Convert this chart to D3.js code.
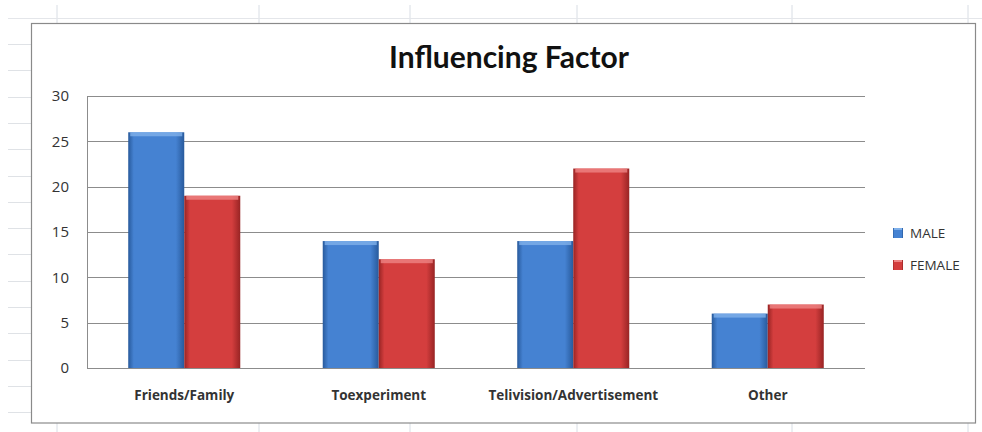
<!DOCTYPE html>
<html>
<head>
<meta charset="utf-8">
<script src="https://cdn.jsdelivr.net/npm/d3@7"></script>
<style>
  html, body { margin: 0; padding: 0; background: #fff; }
  svg { display: block; }
</style>
</head>
<body>
<svg id="chart" width="982" height="432"></svg>
<script>
const categories = ["Friends/Family", "Toexperiment", "Telivision/Advertisement", "Other"];
const seriesNames = ["MALE", "FEMALE"];
const maleValues = [26, 14, 14, 6];
const femaleValues = [19, 12, 22, 7];
const yTicks = [0, 5, 10, 15, 20, 25, 30];
const title = "Influencing Factor";

const seriesValues = [maleValues, femaleValues];
const colors = {
  MALE: { edge: "#285a9c", mid: "#4582d2", top: "#7fb0ea" },
  FEMALE: { edge: "#982424", mid: "#d43e3e", top: "#ee8585" }
};

const svg = d3.select("#chart");
const W = 982, H = 432;

// spreadsheet background
const bg = svg.append("g");
const sheetCols = [57, 259, 410, 577, 792, 968];
sheetCols.forEach(x => {
  bg.append("line").attr("x1", x).attr("x2", x).attr("y1", 5).attr("y2", 23).attr("stroke", "#d8dde4").attr("stroke-width", 1);
  bg.append("line").attr("x1", x).attr("x2", x).attr("y1", 423).attr("y2", 432).attr("stroke", "#d8dde4").attr("stroke-width", 1);
});
bg.append("line").attr("x1", 8).attr("x2", W).attr("y1", 18.5).attr("y2", 18.5).attr("stroke", "#e4e6ea");
for (let y = 44; y < 420; y += 26.3) {
  bg.append("line").attr("x1", 8).attr("x2", 31).attr("y1", Math.round(y) + 0.5).attr("y2", Math.round(y) + 0.5).attr("stroke", "#dfe2e6");
}

// chart frame
svg.append("rect").attr("x", 31.5).attr("y", 23.5).attr("width", 944).attr("height", 399.5)
  .attr("fill", "#fff").attr("stroke", "#8a8a8a").attr("stroke-width", 1.2);

// title
svg.append("text").attr("x", 509).attr("y", 68).attr("text-anchor", "middle")
  .attr("font-family", "Lato, 'Open Sans', sans-serif").attr("font-weight", "bold")
  .attr("font-size", 30).attr("fill", "#111").text(title);

const plot = { left: 87, right: 865, top: 96, bottom: 368 };

const y = d3.scaleLinear().domain([0, 30]).range([plot.bottom, plot.top]);
const x0 = d3.scaleBand().domain(categories).range([plot.left, plot.right])
  .paddingInner(0.424).paddingOuter(0.212);
const x1 = d3.scaleBand().domain(seriesNames).range([0, x0.bandwidth()]).padding(0);

// gridlines
const grid = svg.append("g");
grid.selectAll("line").data(yTicks).join("line")
  .attr("x1", plot.left).attr("x2", plot.right)
  .attr("y1", d => Math.round(y(d)) + 0.5).attr("y2", d => Math.round(y(d)) + 0.5)
  .attr("stroke", "#8c8c8c").attr("stroke-width", 1);
grid.append("line").attr("x1", plot.left + 0.5).attr("x2", plot.left + 0.5)
  .attr("y1", plot.top).attr("y2", plot.bottom).attr("stroke", "#8c8c8c");

// y axis labels
const yAxis = d3.axisLeft(y).tickValues(yTicks).tickSize(0).tickPadding(18);
const yg = svg.append("g").attr("transform", `translate(${plot.left},0)`).call(yAxis);
yg.select(".domain").remove();
yg.selectAll("text").attr("font-family", "'Open Sans', sans-serif").attr("font-size", 15).attr("fill", "#333");

// x axis labels
const xAxis = d3.axisBottom(x0).tickSize(0).tickPadding(22);
const xg = svg.append("g").attr("transform", `translate(0,${plot.bottom})`).call(xAxis);
xg.select(".domain").remove();
xg.selectAll("text").attr("font-family", "'Open Sans', sans-serif").attr("font-weight", "bold")
  .attr("font-size", 13.5).attr("fill", "#333");

// gradients
const defs = svg.append("defs");
seriesNames.forEach(s => {
  const c = colors[s];
  const g = defs.append("linearGradient").attr("id", "grad-" + s).attr("x1", "0").attr("x2", "1").attr("y1", "0").attr("y2", "0");
  g.append("stop").attr("offset", "0%").attr("stop-color", c.edge);
  g.append("stop").attr("offset", "10%").attr("stop-color", c.mid);
  g.append("stop").attr("offset", "85%").attr("stop-color", c.mid);
  g.append("stop").attr("offset", "100%").attr("stop-color", c.edge);
});

const rows = categories.map((cat, i) => ({ cat, vals: seriesNames.map((s, j) => ({ s, v: seriesValues[j][i] })) }));

const groups = svg.append("g").selectAll("g").data(rows).join("g")
  .attr("transform", d => `translate(${x0(d.cat)},0)`);

groups.selectAll("rect.bar").data(d => d.vals).join("rect").attr("class", "bar")
  .attr("x", d => x1(d.s)).attr("width", x1.bandwidth())
  .attr("y", d => y(d.v)).attr("height", d => y(0) - y(d.v))
  .attr("fill", d => `url(#grad-${d.s})`);

// top bevel highlight
groups.selectAll("rect.top").data(d => d.vals).join("rect").attr("class", "top")
  .attr("x", d => x1(d.s) + 2).attr("width", x1.bandwidth() - 4)
  .attr("y", d => y(d.v)).attr("height", 4)
  .attr("fill", d => colors[d.s].top).attr("opacity", 0.8);

// legend
const legend = svg.append("g");
seriesNames.forEach((s, i) => {
  const ly = 233 + i * 32;
  legend.append("rect").attr("x", 893).attr("y", ly - 5).attr("width", 10).attr("height", 10)
    .attr("fill", `url(#grad-${s})`);
  legend.append("rect").attr("x", 894).attr("y", ly - 5).attr("width", 8).attr("height", 2)
    .attr("fill", colors[s].top);
  legend.append("text").attr("x", 910).attr("y", ly).attr("dy", "0.35em")
    .attr("font-family", "'Open Sans', sans-serif").attr("font-size", 13.5).attr("fill", "#333").text(s);
});
</script>
</body>
</html>
